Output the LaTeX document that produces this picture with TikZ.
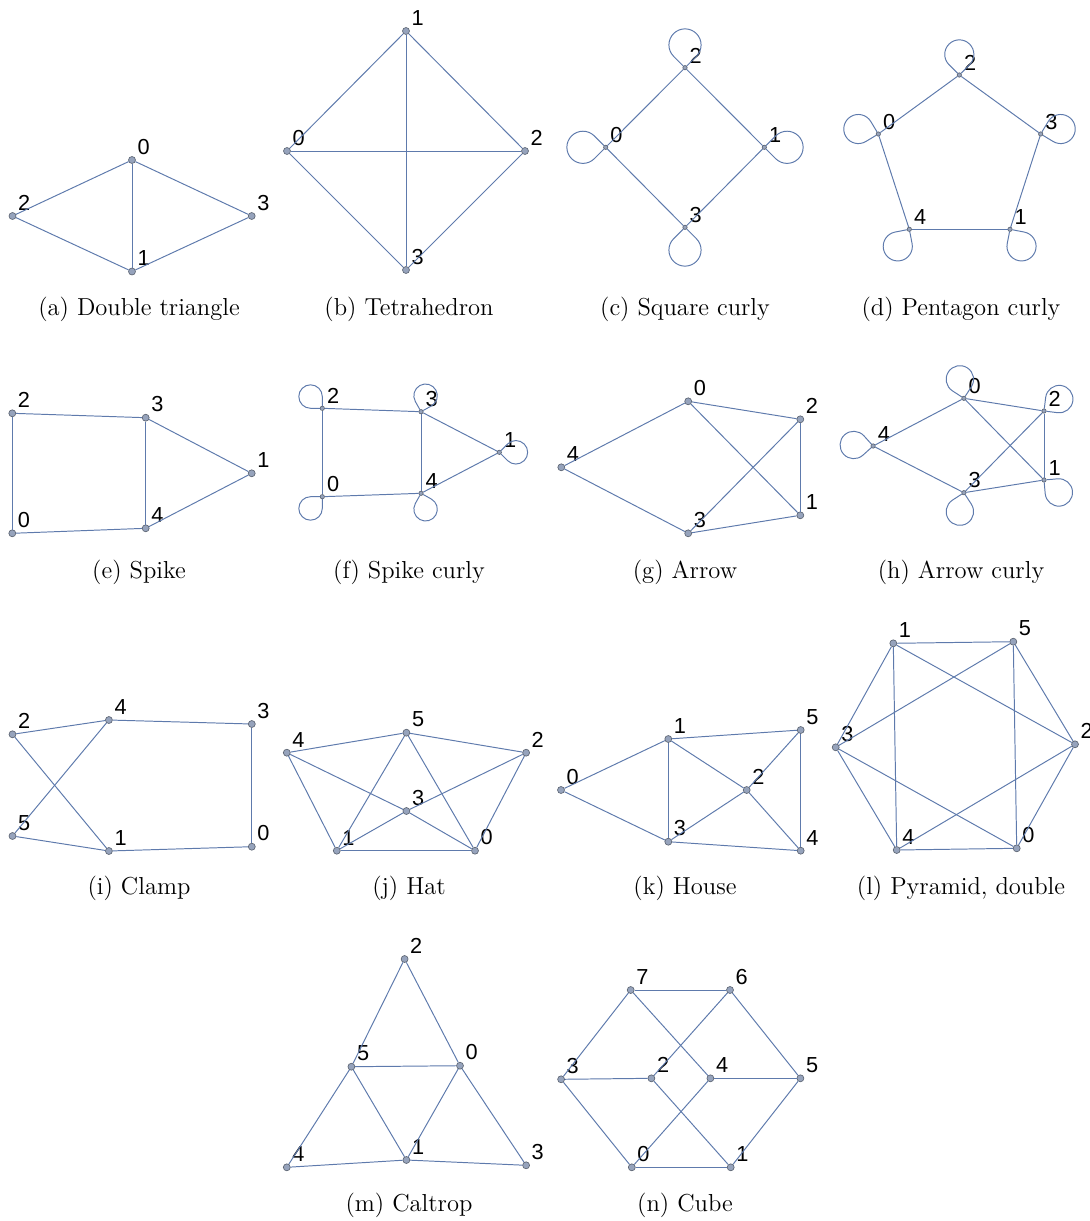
\documentclass[tikz,border=0pt]{standalone}
\usepackage{fontspec}
\newfontfamily\vlabelfont{Liberation Sans}
\usetikzlibrary{positioning}

\definecolor{edgeblue}{RGB}{94,122,172}
\definecolor{vtxfill}{RGB}{150,163,188}
\definecolor{vtxdraw}{RGB}{92,100,114}

\tikzset{
  edge/.style={draw=edgeblue, line width=0.45pt},
  lbl/.style={font=\vlabelfont\fontsize{10}{10}\selectfont, inner sep=0.3pt, label distance=1.2pt},
  vtx/.style={circle, fill=vtxfill, draw=vtxdraw, line width=0.3pt, inner sep=0pt,
    minimum size=3.2pt, label={[lbl]above right:#1}},
  svtx/.style={vtx=#1, minimum size=2pt},
  captext/.style={anchor=base, font=\fontsize{11.3}{13}\selectfont},
}

% self loop (teardrop): node, direction, radius
\newcommand{\curl}[3]{%
  \pgfmathsetmacro\loopdir{#2+45}\pgfmathsetmacro\loopstart{#2+135}%
  \draw[edge] (#1) -- ++(\loopdir:#3) arc[start angle=\loopstart, delta angle=-270, radius=#3] -- (#1);}

\begin{document}
\begin{tikzpicture}[x=0.46pt, y=-0.46pt]
\useasboundingbox (0,0) rectangle (1089,1221);

% (a) double triangle
\node[vtx=0] (a0) at (132,160) {};
\node[vtx=1] (a1) at (132,271.5) {};
\node[vtx=2] (a2) at (12.5,216) {};
\node[vtx=3] (a3) at (251.7,216) {};
\foreach \u/\v in {a0/a2, a0/a3, a0/a1, a2/a1, a1/a3}
  \draw[edge] (\u) -- (\v);
\node[captext] (capa) at (139,315) {(a) Double triangle};

% (b) tetrahedron
\node[vtx=0] (b0) at (287,151) {};
\node[vtx=1] (b1) at (406,31) {};
\node[vtx=2] (b2) at (525,151) {};
\node[vtx=3] (b3) at (406,270) {};
\foreach \u/\v in {b1/b0, b1/b2, b1/b3, b0/b2, b0/b3, b2/b3}
  \draw[edge] (\u) -- (\v);
\node[captext] (capb) at (409,315) {(b) Tetrahedron};

% (c) square curly
\node[svtx=0] (c0) at (605.7,147.3) {};
\node[svtx=1] (c1) at (764.3,147.3) {};
\node[svtx=2] (c2) at (685,67.7) {};
\node[svtx=3] (c3) at (685,227.3) {};
\foreach \u/\v in {c2/c0, c2/c1, c0/c3, c1/c3}
  \draw[edge] (\u) -- (\v);
\curl{c2}{90}{7.4pt}
\curl{c0}{180}{7.4pt}
\curl{c1}{0}{7.4pt}
\curl{c3}{270}{7.4pt}
\node[captext] (capc) at (685,315) {(c) Square curly};

% (d) pentagon curly
\node[svtx=0] (d0) at (878.3,134) {};
\node[svtx=1] (d1) at (1010,229.3) {};
\node[svtx=2] (d2) at (959.3,75) {};
\node[svtx=3] (d3) at (1040.7,134) {};
\node[svtx=4] (d4) at (909.3,229.3) {};
\foreach \u/\v in {d2/d0, d2/d3, d0/d4, d3/d1, d4/d1}
  \draw[edge] (\u) -- (\v);
\curl{d2}{90}{6.7pt}
\curl{d0}{166}{6.7pt}
\curl{d3}{14}{6.7pt}
\curl{d4}{236}{6.7pt}
\curl{d1}{304}{6.7pt}
\node[captext] (capd) at (961,315) {(d) Pentagon curly};

% (e) spike
\node[vtx=0] (e0) at (12.3,533.3) {};
\node[vtx=1] (e1) at (251.7,473.3) {};
\node[vtx=2] (e2) at (12.3,413.3) {};
\node[vtx=3] (e3) at (145.7,417.7) {};
\node[vtx=4] (e4) at (145.7,528.3) {};
\foreach \u/\v in {e2/e3, e2/e0, e3/e4, e3/e1, e4/e1, e0/e4}
  \draw[edge] (\u) -- (\v);
\node[captext] (cape) at (139,578) {(e) Spike};

% (f) spike curly
\node[svtx=0] (f0) at (322.3,496.7) {};
\node[svtx=1] (f1) at (499.3,452.3) {};
\node[svtx=2] (f2) at (322.3,408.3) {};
\node[svtx=3] (f3) at (421,411.7) {};
\node[svtx=4] (f4) at (421,493.3) {};
\foreach \u/\v in {f2/f3, f2/f0, f3/f4, f3/f1, f4/f1, f0/f4}
  \draw[edge] (\u) -- (\v);
\curl{f2}{135}{5.4pt}
\curl{f3}{74}{5.4pt}
\curl{f1}{0}{5.4pt}
\curl{f0}{225}{5.4pt}
\curl{f4}{286}{5.4pt}
\node[captext] (capf) at (409,578) {(f) Spike curly};

% (g) arrow
\node[vtx=0] (g0) at (688.2,401.3) {};
\node[vtx=1] (g1) at (800.3,515.3) {};
\node[vtx=2] (g2) at (800.3,419.3) {};
\node[vtx=3] (g3) at (688.2,533.3) {};
\node[vtx=4] (g4) at (561.3,467.3) {};
\foreach \u/\v in {g0/g4, g0/g2, g0/g1, g2/g3, g2/g1, g4/g3, g3/g1}
  \draw[edge] (\u) -- (\v);
\node[captext] (capg) at (685,578) {(g) Arrow};

% (h) arrow curly
\node[svtx=0] (h0) at (963.9,398.3) {};
\node[svtx=1] (h1) at (1044,480) {};
\node[svtx=2] (h2) at (1044,411) {};
\node[svtx=3] (h3) at (963.9,492.7) {};
\node[svtx=4] (h4) at (873.1,446) {};
\foreach \u/\v in {h0/h4, h0/h2, h0/h1, h2/h3, h2/h1, h4/h3, h3/h1}
  \draw[edge] (\u) -- (\v);
\curl{h0}{102}{6.3pt}
\curl{h2}{38}{6.3pt}
\curl{h4}{177}{6.3pt}
\curl{h1}{320}{6.3pt}
\curl{h3}{258}{6.3pt}
\node[captext] (caph) at (961,578) {(h) Arrow curly};

% (i) clamp
\node[vtx=0] (i0) at (251.8,846.7) {};
\node[vtx=1] (i1) at (108.9,851) {};
\node[vtx=2] (i2) at (12.5,734.3) {};
\node[vtx=3] (i3) at (251.8,724) {};
\node[vtx=4] (i4) at (108.9,720) {};
\node[vtx=5] (i5) at (12.5,836) {};
\foreach \u/\v in {i2/i4, i4/i3, i2/i1, i4/i5, i5/i1, i1/i0, i3/i0}
  \draw[edge] (\u) -- (\v);
\node[captext] (capi) at (139,894) {(i) Clamp};

% (j) hat
\node[vtx=0] (j0) at (475,850.7) {};
\node[vtx=1] (j1) at (336.8,850.7) {};
\node[vtx=2] (j2) at (526.1,752.7) {};
\node[vtx=3] (j3) at (406.4,811) {};
\node[vtx=4] (j4) at (286.8,752.7) {};
\node[vtx=5] (j5) at (406.4,732.7) {};
\foreach \u/\v in {j4/j5, j5/j2, j4/j1, j2/j0, j1/j0, j5/j1, j5/j0, j4/j3, j3/j0, j2/j3, j3/j1}
  \draw[edge] (\u) -- (\v);
\node[captext] (capj) at (409,894) {(j) Hat};

% (k) house
\node[vtx=0] (k0) at (561,790) {};
\node[vtx=1] (k1) at (668.3,739) {};
\node[vtx=2] (k2) at (746.7,790) {};
\node[vtx=3] (k3) at (668.3,841.7) {};
\node[vtx=4] (k4) at (800.7,850.7) {};
\node[vtx=5] (k5) at (800.7,730) {};
\foreach \u/\v in {k0/k1, k0/k3, k1/k3, k1/k5, k1/k2, k3/k2, k2/k5, k2/k4, k5/k4, k3/k4}
  \draw[edge] (\u) -- (\v);
\node[captext] (capk) at (685,894) {(k) House};

% (l) pyramid, double
\node[vtx=0] (l0) at (1016.7,848.3) {};
\node[vtx=1] (l1) at (893.3,643.3) {};
\node[vtx=2] (l2) at (1075,744.3) {};
\node[vtx=3] (l3) at (835.7,747.3) {};
\node[vtx=4] (l4) at (896.7,850) {};
\node[vtx=5] (l5) at (1013.3,641.7) {};
\foreach \u/\v in {l1/l5, l1/l3, l1/l4, l1/l2, l5/l3, l5/l0, l5/l2, l3/l4, l3/l0, l2/l4, l2/l0, l4/l0}
  \draw[edge] (\u) -- (\v);
\node[captext] (capl) at (961,894) {(l) Pyramid, double};

% (m) caltrop
\node[vtx=0] (m0) at (460,1065.7) {};
\node[vtx=1] (m1) at (406.4,1160) {};
\node[vtx=2] (m2) at (404.6,959) {};
\node[vtx=3] (m3) at (526.1,1165.3) {};
\node[vtx=4] (m4) at (286.8,1167.3) {};
\node[vtx=5] (m5) at (351.4,1066.7) {};
\foreach \u/\v in {m2/m5, m2/m0, m5/m0, m5/m4, m5/m1, m0/m1, m0/m3, m4/m1, m1/m3}
  \draw[edge] (\u) -- (\v);
\node[captext] (capm) at (409,1211) {(m) Caltrop};

% (n) cube
\node[vtx=0] (n0) at (631.8,1167.3) {};
\node[vtx=1] (n1) at (730.7,1167.3) {};
\node[vtx=2] (n2) at (651.4,1078.3) {};
\node[vtx=3] (n3) at (561.1,1079.3) {};
\node[vtx=4] (n4) at (710.4,1078.3) {};
\node[vtx=5] (n5) at (800.4,1078.3) {};
\node[vtx=6] (n6) at (730,990) {};
\node[vtx=7] (n7) at (630.7,990) {};
\foreach \u/\v in {n7/n6, n7/n3, n7/n4, n6/n2, n6/n5, n3/n2, n3/n0, n2/n1, n4/n5, n4/n0, n5/n1, n0/n1}
  \draw[edge] (\u) -- (\v);
\node[captext] (capn) at (685,1211) {(n) Cube};
\end{tikzpicture}
\end{document}
